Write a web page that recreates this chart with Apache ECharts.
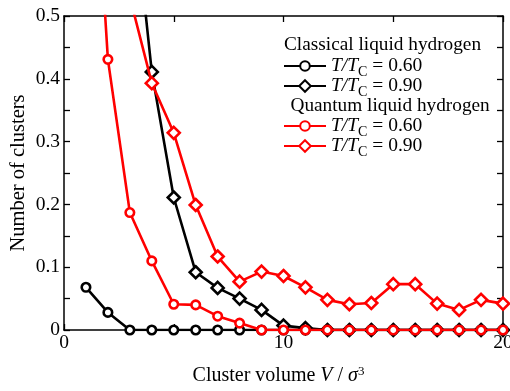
<!DOCTYPE html>
<html>
<head>
<meta charset="utf-8">
<script src="https://cdn.jsdelivr.net/npm/echarts@6/dist/echarts.min.js"></script>
<style>
html,body{margin:0;padding:0;background:#fff;}
#c{width:510px;height:391px;}
</style>
</head>
<body>
<div id="c"></div>
<script>
const volumes = [1,2,3,4,5,6,7,8,9,10,11,12,13,14,15,16,17,18,19,20];
const classical060 = [0.068,0.028,0,0,0,0,0,0,0,0,0,0,0,0,0,0,0,0,0,0];
const classical090 = [null,null,0.74,0.411,0.211,0.092,0.067,0.050,0.032,0.007,0.003,0,0,0,0,0,0,0,0,0];
const quantum060 = [0.99,0.431,0.187,0.110,0.041,0.040,0.022,0.011,0,0,0,0,0,0,0,0,0,0,0,0];
const quantum090 = [null,null,0.53,0.393,0.314,0.199,0.117,0.077,0.093,0.086,0.068,0.048,0.041,0.043,0.073,0.073,0.042,0.032,0.048,0.042];
const xTicks = [0,10,20];
const yTicks = [0,0.1,0.2,0.3,0.4,0.5];
const seriesNames = ['Classical T/TC = 0.60','Classical T/TC = 0.90','Quantum T/TC = 0.60','Quantum T/TC = 0.90'];
const groupTitles = ['Classical liquid hydrogen','Quantum liquid hydrogen'];

const FONT = 'Liberation Serif';
const FS = 19.5;
const pair = (arr) => volumes.map((v,i) => [v, arr[i]]);

const chart = echarts.init(document.getElementById('c'), null, {renderer:'canvas'});

function mk(name, data, color, symbol, size, z) {
  return {
    name: name, type: 'line', data: pair(data), z: z,
    symbol: symbol, symbolSize: size, showAllSymbol: true,
    connectNulls: false,
    lineStyle: {color: color, width: 2.6},
    itemStyle: {color: '#fff', borderColor: color, borderWidth: 2.6},
    emphasis: {disabled: true},
    animation: false
  };
}

const legendRich = {
  it: {fontFamily: FONT, fontSize: FS, fontStyle: 'italic', color: '#000'},
  sub: {fontFamily: FONT, fontSize: 14, color: '#000', verticalAlign: 'bottom', padding: [12,0,0,0]},
  n: {fontFamily: FONT, fontSize: FS, color: '#000'}
};
const legendFmt = (name) => '{it|T/T}{sub|C}{n| = ' + name.slice(-4) + '}';

function mkLegend(name, top, ih) {
  return {
    data: [name], orient: 'vertical', left: 283, top: top, padding: 0,
    itemWidth: 42, itemHeight: ih, itemGap: 0,
    formatter: legendFmt, textStyle: {rich: legendRich},
    selectedMode: false
  };
}

const axisCommon = {
  axisLine: {show: true, onZero: false, lineStyle: {color: '#000', width: 1.5}},
  axisTick: {show: true, inside: true, length: 6, lineStyle: {color: '#000', width: 1.3}},
  minorTick: {show: true, splitNumber: 2, length: 6, lineStyle: {color: '#000', width: 1.3}},
  splitLine: {show: false}
};

chart.setOption({
  backgroundColor: '#fff',
  animation: false,
  grid: {left: 64, right: 7, top: 16, bottom: 61, containLabel: false, outerBoundsMode: 'none'},
  xAxis: [
    Object.assign({
      type: 'value', min: 0, max: 20, interval: 10, position: 'bottom',
      name: '{n|Cluster volume }{it|V}{n| / }{it|σ}{sup|3}',
      nameLocation: 'middle', nameGap: 35, nameMoveOverlap: false,
      nameTextStyle: {padding: [0, 10, 0, 0], rich: {
        n: {fontFamily: FONT, fontSize: 20, color: '#000'},
        it: {fontFamily: FONT, fontSize: 20, fontStyle: 'italic', color: '#000'},
        sup: {fontFamily: FONT, fontSize: 13, color: '#000', verticalAlign: 'top', padding: [0,0,8,0]}
      }},
      axisLabel: {margin: 3, fontFamily: FONT, fontSize: FS, color: '#000',
        formatter: (v) => xTicks.includes(v) ? String(v) : ''}
    }, axisCommon),
    Object.assign({
      type: 'value', min: 0, max: 20, interval: 10, position: 'top',
      axisLabel: {show: false}
    }, axisCommon)
  ],
  yAxis: [
    Object.assign({
      type: 'value', min: 0, max: 0.5, interval: 0.1, position: 'left',
      name: 'Number of clusters', nameLocation: 'middle', nameGap: 35, nameMoveOverlap: false,
      nameTextStyle: {fontFamily: FONT, fontSize: 20.5, color: '#000'},
      axisLabel: {margin: 4, fontFamily: FONT, fontSize: FS, color: '#000',
        formatter: (v) => {
          const t = yTicks.find(k => Math.abs(k - v) < 1e-9);
          return t === undefined ? '' : String(t);
        }}
    }, axisCommon),
    Object.assign({
      type: 'value', min: 0, max: 0.5, interval: 0.1, position: 'right',
      axisLabel: {show: false}
    }, axisCommon)
  ],
  legend: [
    mkLegend(seriesNames[0], 56, 12),
    mkLegend(seriesNames[1], 76, 14.5),
    mkLegend(seriesNames[2], 116, 12),
    mkLegend(seriesNames[3], 136, 14.5)
  ],
  graphic: [
    {type: 'text', left: 284, top: 35.5, silent: true,
      style: {text: groupTitles[0], fontFamily: FONT, fontSize: 19.3, fill: '#000'}},
    {type: 'text', left: 290.5, top: 96.3, silent: true,
      style: {text: groupTitles[1], fontFamily: FONT, fontSize: 19.3, fill: '#000'}}
  ],
  series: [
    mk(seriesNames[0], classical060, '#000', 'circle', 8.5, 2),
    mk(seriesNames[1], classical090, '#000', 'diamond', 12, 3),
    mk(seriesNames[3], quantum090, '#ff0000', 'diamond', 12, 4),
    mk(seriesNames[2], quantum060, '#ff0000', 'circle', 8.5, 5)
  ]
});
</script>
</body>
</html>
